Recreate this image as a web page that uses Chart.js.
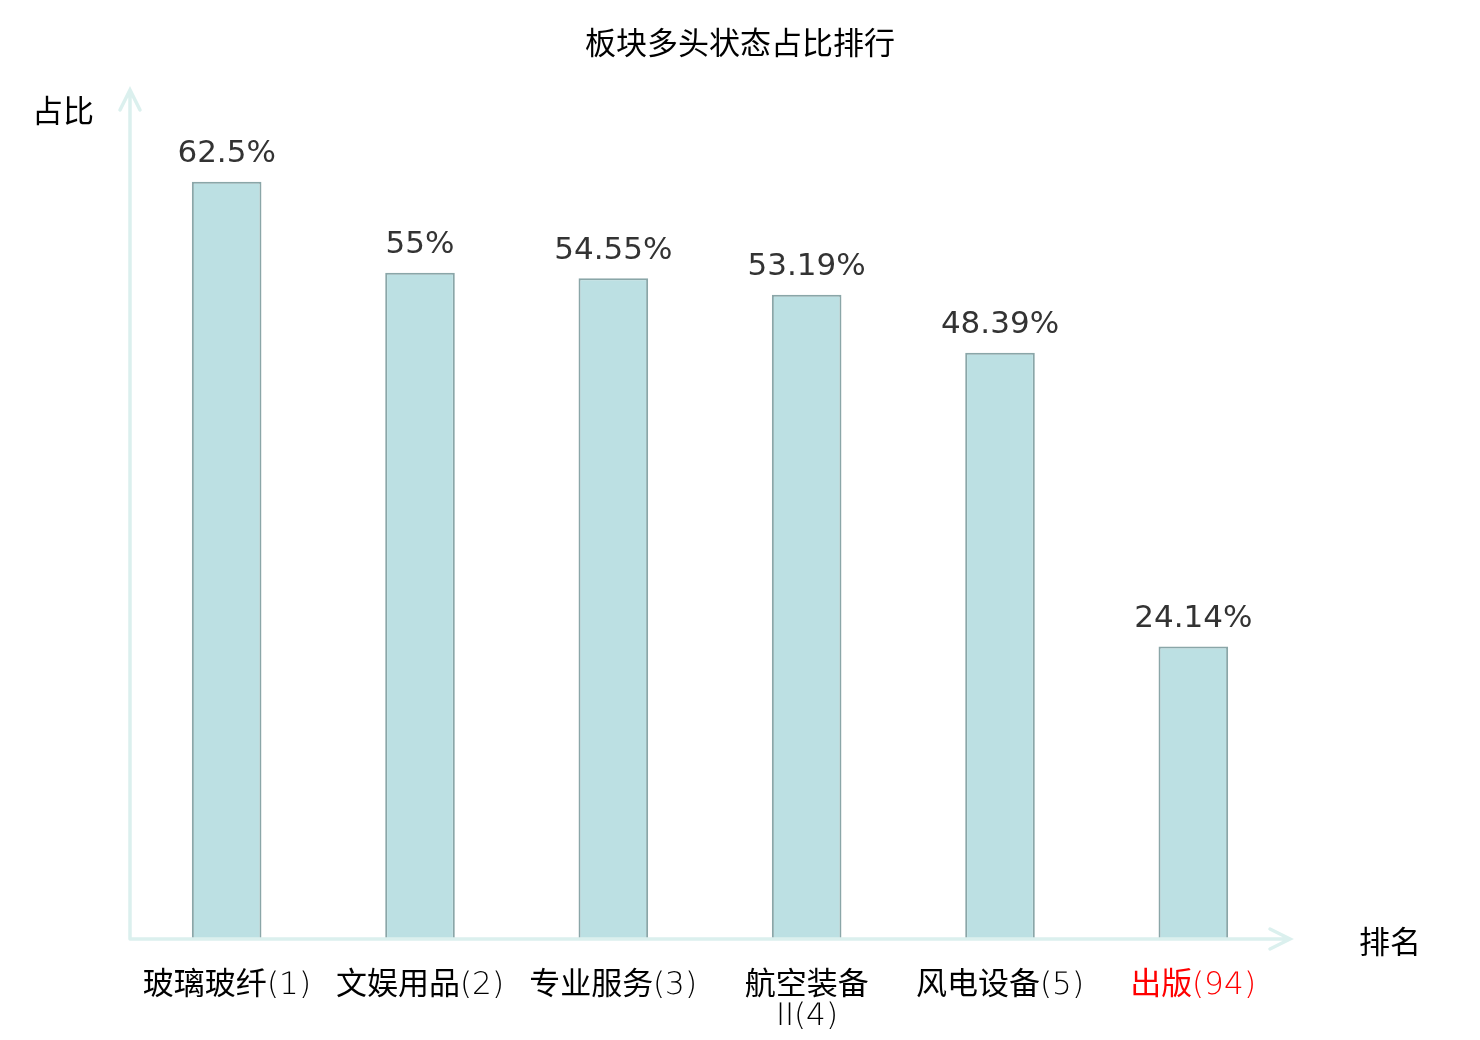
<!DOCTYPE html>
<html>
<head>
<meta charset="utf-8">
<script src="https://cdn.jsdelivr.net/npm/chart.js@4/dist/chart.umd.min.js"></script>
<style>
  @font-face { font-family: 'ThinDigits'; src: local('DejaVu Sans ExtraLight'), local('DejaVuSans-ExtraLight'); }
  html, body { margin: 0; padding: 0; background: #fff; }
  #wrap { width: 1480px; height: 1040px; }
</style>
</head>
<body>
<div id="wrap"><canvas id="chart" width="1480" height="1040"></canvas></div>
<script>
// sector ranking data
const categories = ['玻璃玻纤(1)', '文娱用品(2)', '专业服务(3)', ['航空装备', 'II(4)'], '风电设备(5)', '出版(94)'];
const shares = [62.5, 55, 54.55, 53.19, 48.39, 24.14];
const shareLabels = ['62.5%', '55%', '54.55%', '53.19%', '48.39%', '24.14%'];
const labelColors = ['#000', '#000', '#000', '#000', '#000', '#ff0000'];
const yMax = 70;

const CJK = '"Noto Sans CJK SC", "Noto Sans", sans-serif';
const AXIS = '#dbf0ee';

// title, axis lines with arrowheads, axis names and value labels
const decorate = {
  id: 'decorate',
  afterDatasetsDraw(chart) {
    const { ctx, chartArea: a } = chart;
    ctx.save();
    ctx.strokeStyle = AXIS;
    ctx.lineWidth = 3.5;
    ctx.lineCap = 'round';
    ctx.beginPath();
    ctx.moveTo(a.left, a.bottom); ctx.lineTo(a.left, a.top - 1);
    ctx.moveTo(a.left - 10, a.top + 19); ctx.lineTo(a.left, a.top - 1); ctx.lineTo(a.left + 10, a.top + 19);
    ctx.moveTo(a.left, a.bottom); ctx.lineTo(a.right, a.bottom);
    ctx.moveTo(a.right - 20, a.bottom - 10); ctx.lineTo(a.right, a.bottom); ctx.lineTo(a.right - 20, a.bottom + 10);
    ctx.stroke();

    ctx.fillStyle = '#000';
    ctx.font = '31px ' + CJK;
    ctx.textAlign = 'center';
    ctx.textBaseline = 'middle';
    ctx.fillText('板块多头状态占比排行', chart.width / 2, 42);
    ctx.fillText('占比', 63, a.top + 19);
    ctx.fillText('排名', a.right + 100, a.bottom + 2);

    const meta = chart.getDatasetMeta(0);
    ctx.fillStyle = '#333';
    ctx.font = '31px "DejaVu Sans", sans-serif';
    ctx.textBaseline = 'bottom';
    meta.data.forEach((bar, i) => {
      ctx.fillText(shareLabels[i], bar.x, bar.y - 12);
    });
    ctx.restore();
  }
};

function draw() {
  new Chart(document.getElementById('chart'), {
    type: 'bar',
    data: {
      labels: categories,
      datasets: [{
        data: shares,
        backgroundColor: '#bce0e3',
        borderColor: '#8aa6a8',
        borderWidth: 2,
        borderSkipped: 'bottom',
        barPercentage: 0.72,
        categoryPercentage: 0.5
      }]
    },
    options: {
      responsive: false,
      animation: false,
      layout: { padding: { left: 130, right: 190, top: 91, bottom: 0 } },
      plugins: {
        legend: { display: false },
        tooltip: { enabled: false },
        title: { display: false }
      },
      scales: {
        x: {
          grid: { display: false, drawTicks: false },
          border: { display: false },
          ticks: {
            color: labelColors,
            font: { family: 'ThinDigits, ' + CJK, size: 31, lineHeight: 1.0 },
            padding: 31,
            maxRotation: 0,
            autoSkip: false
          },
          afterFit(scale) { scale.height = 101; }
        },
        y: {
          display: false,
          min: 0,
          max: yMax
        }
      }
    },
    plugins: [decorate]
  });
}

document.fonts.load('31px ThinDigits').then(draw, draw);
</script>
</body>
</html>
